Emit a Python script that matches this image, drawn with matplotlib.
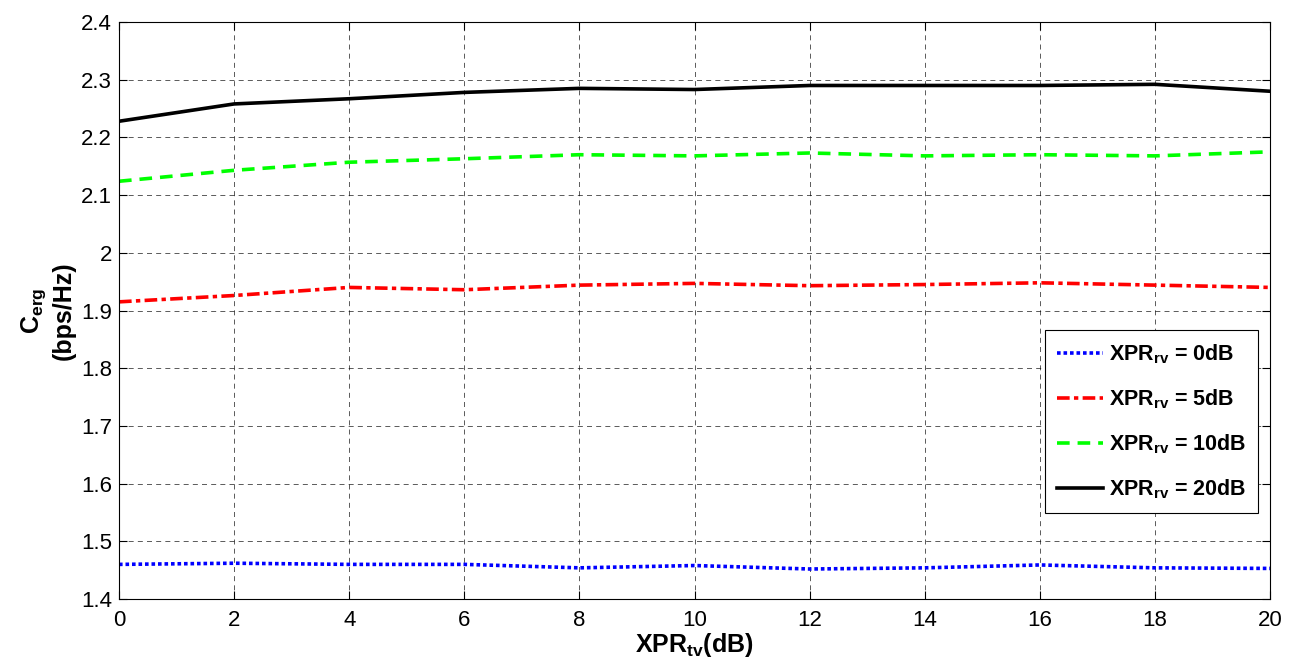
import matplotlib
matplotlib.use("Agg")
import matplotlib.pyplot as plt

plt.rcParams['font.family'] = ['Liberation Sans', 'DejaVu Sans']
plt.rcParams['mathtext.fontset'] = 'custom'
plt.rcParams['mathtext.rm'] = 'Liberation Sans'
plt.rcParams['mathtext.bf'] = 'Liberation Sans:bold'
plt.rcParams['mathtext.it'] = 'Liberation Sans:italic'

xpr_tv = [0, 2, 4, 6, 8, 10, 12, 14, 16, 18, 20]
cap_0db = [1.460, 1.462, 1.460, 1.460, 1.454, 1.458, 1.452, 1.454, 1.459, 1.454, 1.453]
cap_5db = [1.915, 1.926, 1.940, 1.936, 1.944, 1.947, 1.943, 1.945, 1.948, 1.944, 1.940]
cap_10db = [2.124, 2.143, 2.157, 2.163, 2.170, 2.168, 2.173, 2.168, 2.170, 2.168, 2.175]
cap_20db = [2.228, 2.258, 2.267, 2.278, 2.285, 2.283, 2.290, 2.290, 2.290, 2.292, 2.280]
labels = [r'$\mathbf{XPR_{rv}}$ = 0dB', r'$\mathbf{XPR_{rv}}$ = 5dB',
          r'$\mathbf{XPR_{rv}}$ = 10dB', r'$\mathbf{XPR_{rv}}$ = 20dB']
x_ticks = [0, 2, 4, 6, 8, 10, 12, 14, 16, 18, 20]
y_ticks = [1.4, 1.5, 1.6, 1.7, 1.8, 1.9, 2.0, 2.1, 2.2, 2.3, 2.4]
y_ticklabels = ['1.4', '1.5', '1.6', '1.7', '1.8', '1.9', '2', '2.1', '2.2', '2.3', '2.4']

fig = plt.figure(figsize=(12.92, 6.71), dpi=100)
ax = fig.add_axes([0.0921, 0.1073, 0.8909, 0.8599])

lw = 2.6
ax.plot(xpr_tv, cap_0db, color='#0000ff', lw=lw, linestyle=(0, (1.0, 0.8)), label=labels[0])
ax.plot(xpr_tv, cap_5db, color='#ff0000', lw=lw, linestyle=(0, (3.5, 1.2, 1.2, 1.2)), label=labels[1])
ax.plot(xpr_tv, cap_10db, color='#00ff00', lw=lw, linestyle=(0, (3.5, 2.2)), label=labels[2])
ax.plot(xpr_tv, cap_20db, color='#000000', lw=lw, linestyle='-', label=labels[3])

ax.set_xlim(0, 20)
ax.set_ylim(1.4, 2.4)
ax.set_xticks(x_ticks)
ax.set_yticks(y_ticks)
ax.set_yticklabels(y_ticklabels)
ax.tick_params(direction='in', length=6, width=0.8, labelsize=16, top=True, right=True)
ax.tick_params(axis='x', pad=8)
ax.tick_params(axis='y', pad=5)
ax.grid(True, color='black', linestyle=(0, (6, 5)), linewidth=0.6, alpha=0.75)
for s in ax.spines.values():
    s.set_linewidth(0.8)

ax.set_xlabel(r'$\mathbf{XPR_{tv}}$(dB)', fontsize=18, fontweight='bold', labelpad=0)
ax.set_ylabel(r'$\mathbf{C_{erg}}$' + '\n(bps/Hz)', fontsize=18, fontweight='bold', labelpad=4)

leg = ax.legend(loc='lower right', bbox_to_anchor=(0.9896, 0.149), borderaxespad=0,
                prop={'weight': 'bold', 'size': 15.5},
                frameon=True, fancybox=False, edgecolor='black', framealpha=1,
                handlelength=2.1, labelspacing=1.0, borderpad=0.55, handletextpad=0.3)
leg.get_frame().set_linewidth(0.8)

fig.savefig('out.png', dpi=100)
